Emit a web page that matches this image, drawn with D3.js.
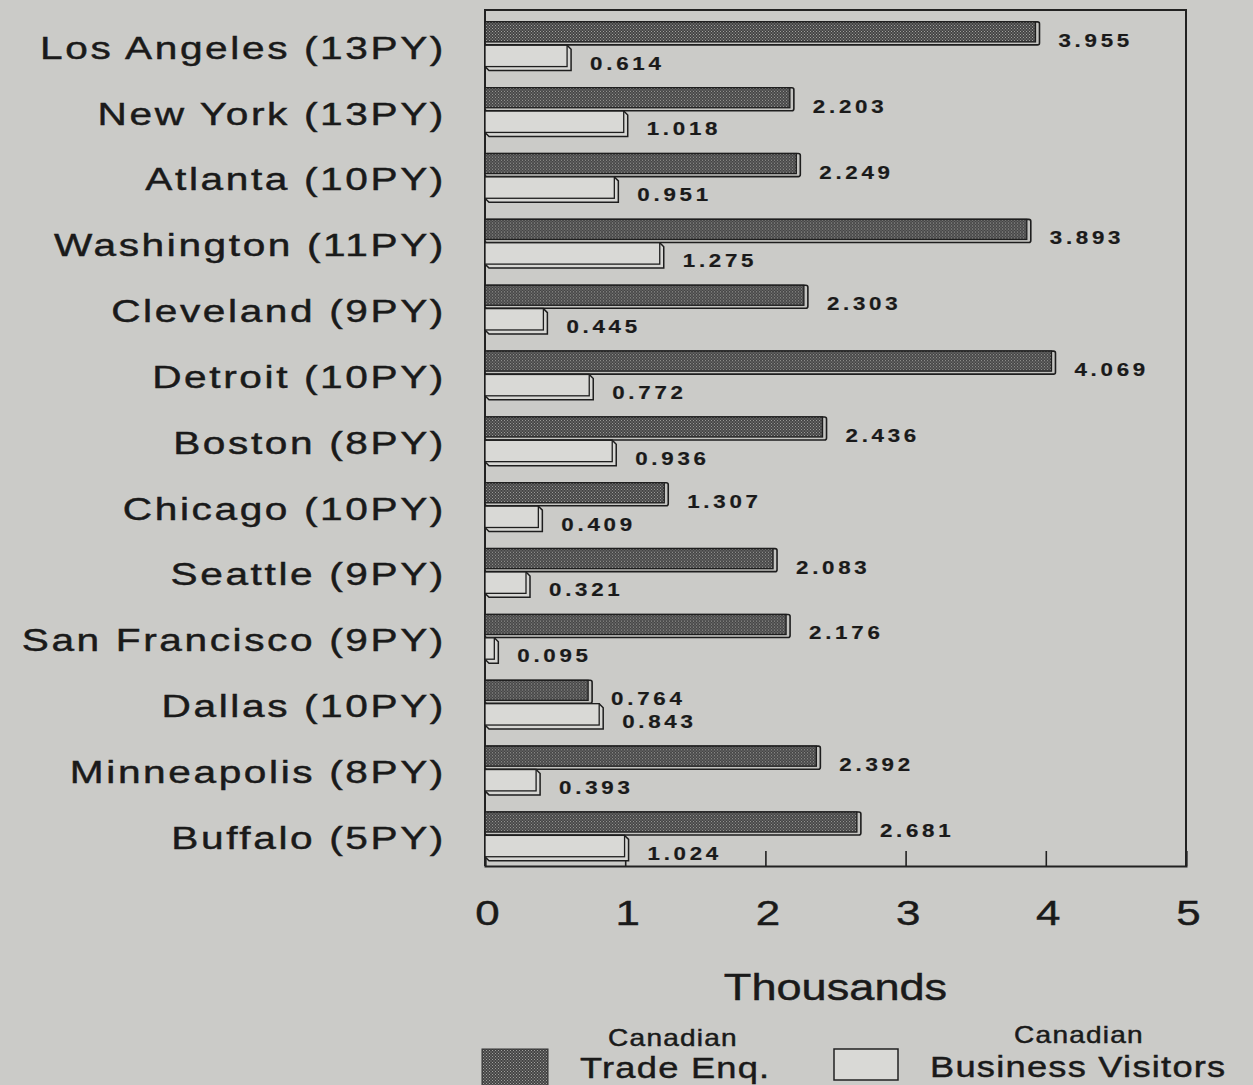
<!DOCTYPE html>
<html>
<head>
<meta charset="utf-8">
<script src="https://cdn.jsdelivr.net/npm/d3@7"></script>
<style>
  html, body { margin: 0; padding: 0; background: #cbcbc8; }
  svg { display: block; }
  text { font-family: "Liberation Sans", Arial, sans-serif; fill: #1a1a1a; stroke: #1a1a1a; stroke-width: 0.45px; }
</style>
</head>
<body>
<svg id="chart" width="1253" height="1085"></svg>
<script>
// Offices and their person-year allocations
const cities = [
  "Los Angeles (13PY)", "New York (13PY)", "Atlanta (10PY)", "Washington (11PY)",
  "Cleveland (9PY)", "Detroit (10PY)", "Boston (8PY)", "Chicago (10PY)",
  "Seattle (9PY)", "San Francisco (9PY)", "Dallas (10PY)", "Minneapolis (8PY)",
  "Buffalo (5PY)"
];
// Thousands
const tradeEnq = [3.955, 2.203, 2.249, 3.893, 2.303, 4.069, 2.436, 1.307, 2.083, 2.176, 0.764, 2.392, 2.681];
const businessVisitors = [0.614, 1.018, 0.951, 1.275, 0.445, 0.772, 0.936, 0.409, 0.321, 0.095, 0.843, 0.393, 1.024];
const xTicks = [0, 1, 2, 3, 4, 5];
const seriesNames = [["Canadian", "Trade Enq."], ["Canadian", "Business Visitors"]];

const svg = d3.select("#chart");
const plot = { left: 485, right: 1186, top: 10, bottom: 866 };
const textStretch = 1.22;

// hatched fill for the trade enquiry bars
const defs = svg.append("defs");
const pat = defs.append("pattern").attr("id", "hatch")
  .attr("width", 3).attr("height", 3).attr("patternUnits", "userSpaceOnUse");
pat.append("rect").attr("width", 3).attr("height", 3).attr("fill", "#444444");
pat.append("rect").attr("x", 0).attr("y", 0).attr("width", 1).attr("height", 1).attr("fill", "#a0a09e");
pat.append("rect").attr("x", 1.5).attr("y", 1.5).attr("width", 1).attr("height", 1).attr("fill", "#a0a09e");

const x = d3.scaleLinear().domain([0, 5]).range([plot.left, plot.right]);
const y = d3.scaleBand().domain(cities).range([plot.top, plot.bottom]).padding(0);
const bw = y.bandwidth();

const rows = cities.map((c, i) => ({ city: c, trade: tradeEnq[i], visit: businessVisitors[i] }));

// anchors text at (px,py) and widens its glyphs horizontally
function stretchedText(sel, px, py, k) {
  return sel.attr("transform", `translate(${px},${py}) scale(${k},1)`);
}

// frame: top, right and left edges
svg.append("path")
  .attr("d", `M${plot.left},${plot.bottom}V${plot.top}H${plot.right}V${plot.bottom}`)
  .attr("fill", "none").attr("stroke", "#222").attr("stroke-width", 2);

// bottom axis with short inward ticks
const axis = d3.axisBottom(x).tickValues(xTicks).tickSize(-15).tickFormat(d3.format("d"));
const ax = svg.append("g").attr("transform", `translate(0,${plot.bottom})`).call(axis);
ax.select(".domain").attr("stroke", "#222").attr("stroke-width", 2);
ax.selectAll(".tick line").attr("stroke", "#222").attr("stroke-width", 1.6);
ax.selectAll(".tick text")
  .attr("font-size", 36).attr("fill", "#1a1a1a")
  .attr("y", 0).attr("dy", 0)
  .attr("transform", `translate(2,59) scale(${textStretch},1)`);

const barRows = svg.append("g").selectAll("g").data(rows).join("g")
  .attr("transform", d => `translate(0,${y(d.city)})`);

const dTop = 0.18 * bw, dH = 0.35 * bw;
const lTop = 0.535 * bw, lH = 0.385 * bw;
const depth = 4;

// trade enquiries: hatched bars with a lighter bevel rim
barRows.append("rect")
  .attr("x", x(0)).attr("y", dTop)
  .attr("width", d => x(d.trade) - x(0)).attr("height", dH)
  .attr("fill", "#c4c4c1").attr("stroke", "#1e1e1e").attr("stroke-width", 1.6)
  .attr("rx", 2);
barRows.append("rect")
  .attr("x", x(0)).attr("y", dTop)
  .attr("width", d => x(d.trade) - x(0) - depth).attr("height", dH - depth + 1)
  .attr("fill", "url(#hatch)").attr("stroke", "#1e1e1e").attr("stroke-width", 1.3);

// business visitors: open bars with a bevel on the right and bottom
barRows.append("path")
  .attr("d", d => {
    const x0 = x(0), x1 = x(d.visit);
    return `M${x0},${lTop}H${x1 - depth}L${x1},${lTop + depth}V${lTop + lH}H${x0 + depth}L${x0},${lTop + lH - depth}Z`;
  })
  .attr("fill", "#d7d7d4").attr("stroke", "#1e1e1e").attr("stroke-width", 1.5);
barRows.append("rect")
  .attr("x", x(0)).attr("y", lTop)
  .attr("width", d => x(d.visit) - x(0) - depth).attr("height", lH - depth)
  .attr("fill", "#d9d9d6").attr("stroke", "#1e1e1e").attr("stroke-width", 1.3);

// value labels
const fmt = d3.format(".3f");
barRows.append("text")
  .attr("font-size", 18).attr("font-weight", "bold").attr("letter-spacing", 3)
  .style("stroke-width", "0.2px")
  .text(d => fmt(d.trade))
  .each(function (d) { stretchedText(d3.select(this), x(d.trade) + 19, 0.56 * bw, 1.24); });
barRows.append("text")
  .attr("font-size", 18).attr("font-weight", "bold").attr("letter-spacing", 3)
  .style("stroke-width", "0.2px")
  .text(d => fmt(d.visit))
  .each(function (d) { stretchedText(d3.select(this), x(d.visit) + 19, 0.905 * bw, 1.24); });

// category labels
svg.append("g").selectAll("text").data(rows).join("text")
  .attr("font-size", 31).attr("text-anchor", "end").attr("letter-spacing", 2)
  .text(d => d.city)
  .each(function (d) { stretchedText(d3.select(this), plot.left - 39, y(d.city) + 0.74 * bw, 1.31); });

// axis title
stretchedText(svg.append("text").attr("font-size", 37).attr("text-anchor", "middle")
  .text("Thousands"), (plot.left + plot.right) / 2, 1000, textStretch);

// legend
const leg = svg.append("g");
leg.append("rect").attr("x", 482).attr("y", 1049).attr("width", 66).attr("height", 40)
  .attr("fill", "url(#hatch)").attr("stroke", "#333").attr("stroke-width", 1);
leg.append("rect").attr("x", 834).attr("y", 1049).attr("width", 64).attr("height", 31)
  .attr("fill", "#d9d9d6").attr("stroke", "#222").attr("stroke-width", 1.5);
stretchedText(leg.append("text").attr("font-size", 23).attr("text-anchor", "middle")
  .attr("letter-spacing", 1).text(seriesNames[0][0]), 673, 1046, textStretch);
stretchedText(leg.append("text").attr("font-size", 29).attr("letter-spacing", 1)
  .text(seriesNames[0][1]), 580, 1078, 1.25);
stretchedText(leg.append("text").attr("font-size", 23).attr("text-anchor", "middle")
  .attr("letter-spacing", 1).text(seriesNames[1][0]), 1079, 1043, textStretch);
stretchedText(leg.append("text").attr("font-size", 29).attr("letter-spacing", 1)
  .text(seriesNames[1][1]), 930, 1077, 1.25);
</script>
</body>
</html>
